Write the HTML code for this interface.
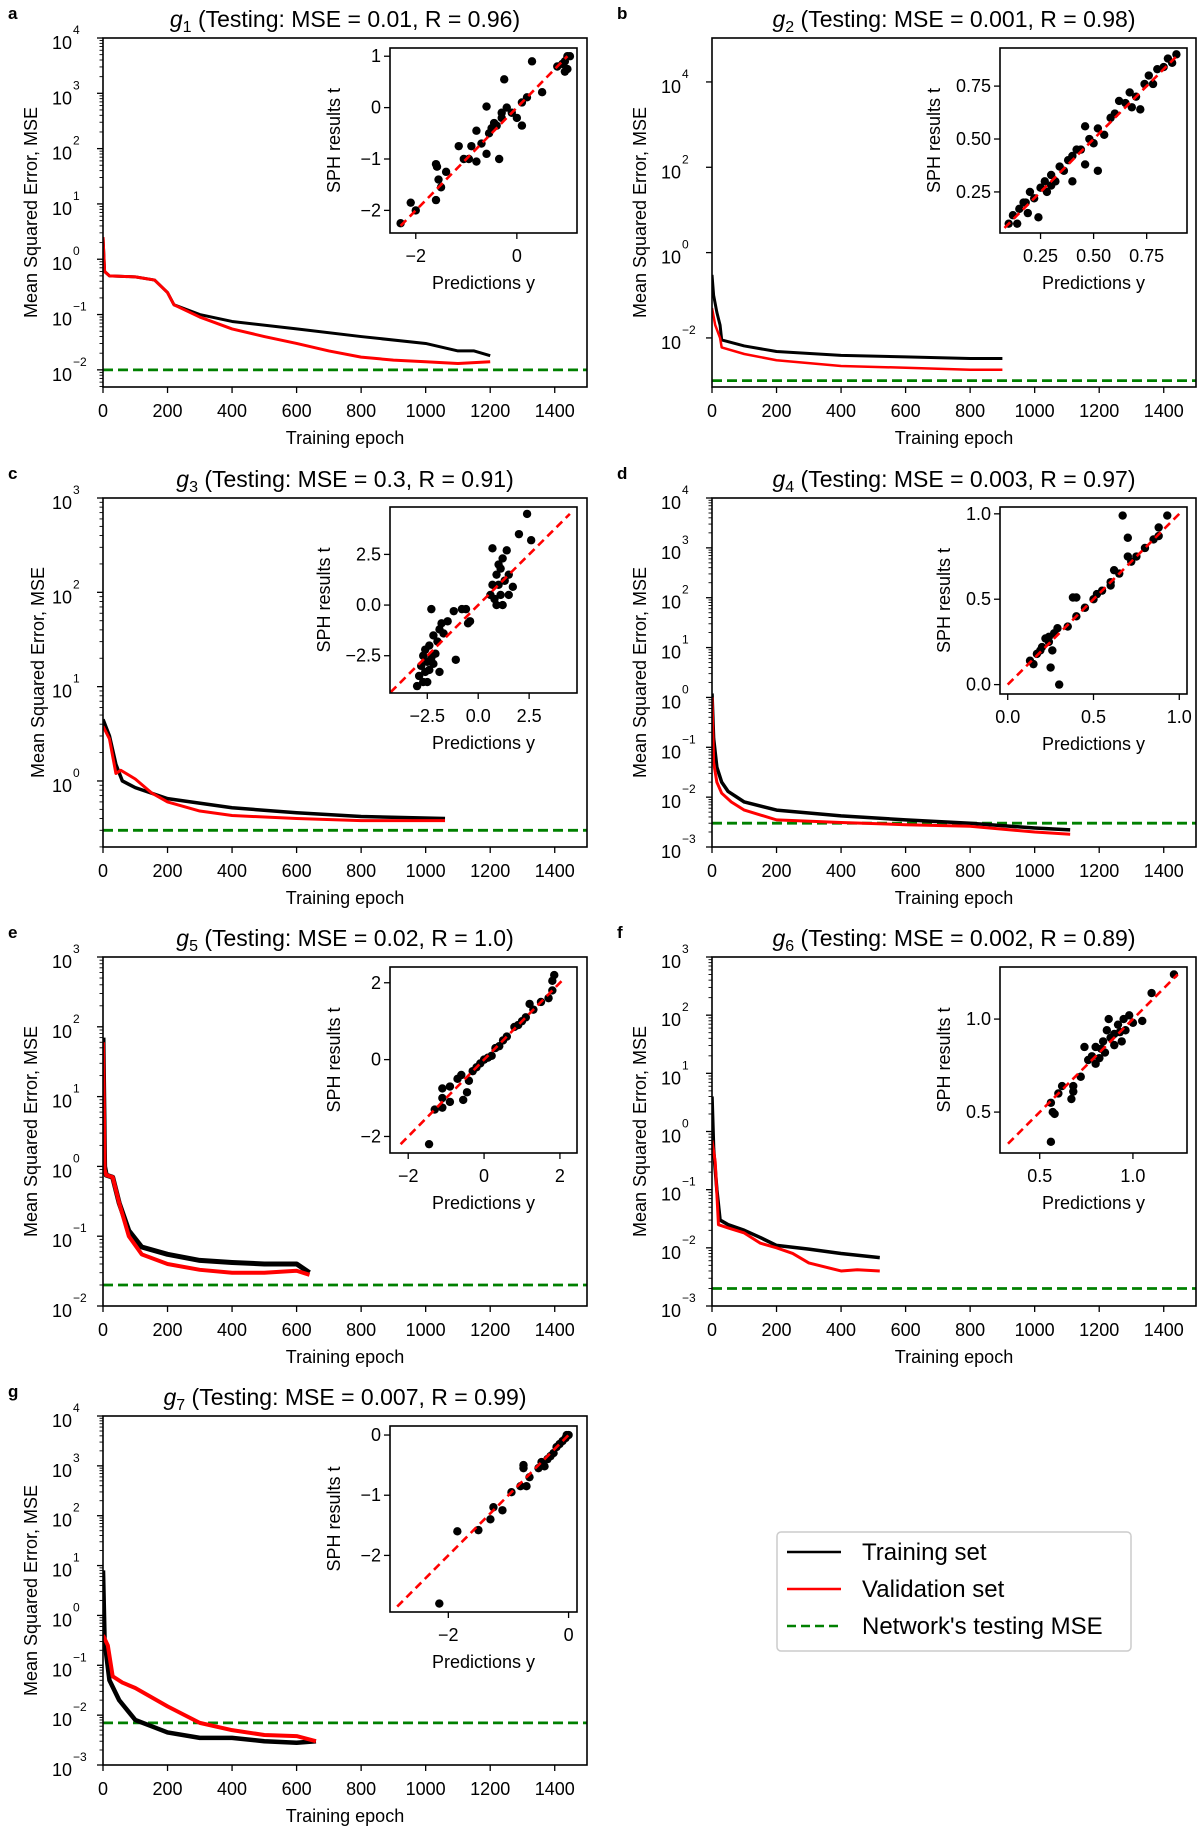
<!DOCTYPE html>
<html><head><meta charset="utf-8"><style>
html,body{margin:0;padding:0;background:#fff;}
svg{display:block;font-family:"Liberation Sans",Arial,sans-serif;}
</style></head><body>
<svg id="fig" width="1200" height="1831" viewBox="0 0 1200 1831" xmlns="http://www.w3.org/2000/svg">
<g id="legend">
<rect x="777" y="1532" width="354" height="119" rx="4" fill="#fff" stroke="#cccccc" stroke-width="1.5"/>
<line x1="787" y1="1552" x2="841" y2="1552" stroke="#000" stroke-width="2.5"/>
<text x="862" y="1560" font-size="24">Training set</text>
<line x1="787" y1="1589" x2="841" y2="1589" stroke="#ff0000" stroke-width="2.5"/>
<text x="862" y="1597" font-size="24">Validation set</text>
<line x1="787" y1="1626" x2="841" y2="1626" stroke="#008000" stroke-width="2.5" stroke-dasharray="9,5"/>
<text x="862" y="1634" font-size="24">Network's testing MSE</text>
</g>
</svg>
<script>
// ---- data ----
const g1Train=[[0,2.5],[5,0.6],[20,0.5],[100,0.48],[160,0.42],[200,0.25],[220,0.15],[300,0.1],[400,0.075],[600,0.055],[800,0.04],[1000,0.03],[1100,0.022],[1150,0.022],[1200,0.018]];
const g1Val=[[0,2.5],[5,0.6],[20,0.5],[100,0.48],[160,0.42],[200,0.25],[220,0.15],[300,0.09],[400,0.055],[500,0.04],[600,0.03],[700,0.022],[800,0.017],[900,0.015],[1000,0.014],[1100,0.013],[1200,0.014]];
const g2Train=[[0,0.3],[5,0.1],[15,0.04],[25,0.02],[30,0.009],[100,0.0065],[200,0.0048],[400,0.0039],[600,0.0036],[800,0.0033],[900,0.0033]];
const g2Val=[[0,0.05],[10,0.02],[25,0.01],[30,0.006],[100,0.0042],[200,0.003],[400,0.0022],[600,0.002],[800,0.0018],[900,0.0018]];
const g3Train=[[0,4.5],[20,3],[40,1.5],[60,1.0],[100,0.85],[200,0.65],[400,0.52],[600,0.46],[800,0.42],[1060,0.4]];
const g3Val=[[0,3.8],[20,2.8],[40,1.2],[55,1.3],[100,1.05],[150,0.75],[200,0.6],[300,0.48],[400,0.43],[600,0.4],[800,0.38],[1060,0.38]];
const g4Train=[[0,1.2],[5,0.15],[15,0.04],[30,0.02],[50,0.013],[100,0.008],[200,0.0055],[400,0.0042],[600,0.0035],[800,0.003],[1000,0.0024],[1110,0.0022]];
const g4Val=[[0,1],[5,0.05],[15,0.02],[30,0.012],[60,0.008],[100,0.0055],[200,0.0035],[400,0.0031],[600,0.0028],[800,0.0026],[1000,0.002],[1110,0.0018]];
const g5Train=[[0,70],[5,1.0],[10,0.75],[30,0.7],[50,0.3],[80,0.12],[120,0.07],[200,0.055],[300,0.045],[400,0.042],[500,0.04],[600,0.04],[640,0.03]];
const g5Val=[[0,60],[5,0.9],[10,0.75],[30,0.7],[50,0.3],[80,0.1],[120,0.055],[200,0.04],[300,0.033],[400,0.03],[500,0.03],[600,0.032],[640,0.028]];
const g6Train=[[0,4],[5,0.5],[15,0.1],[25,0.03],[50,0.025],[100,0.02],[150,0.015],[200,0.011],[300,0.0095],[400,0.008],[520,0.0068]];
const g6Val=[[0,0.7],[10,0.3],[20,0.025],[50,0.022],[100,0.018],[150,0.012],[200,0.01],[250,0.008],[300,0.0055],[400,0.004],[450,0.0042],[520,0.004]];
const g7Train=[[0,8],[5,0.3],[20,0.05],[50,0.02],[100,0.008],[150,0.006],[200,0.0045],[300,0.0035],[400,0.0035],[500,0.003],[600,0.0028],[660,0.003]];
const g7Val=[[0,0.4],[15,0.25],[30,0.06],[60,0.045],[100,0.035],[200,0.015],[300,0.007],[400,0.005],[500,0.004],[600,0.0038],[660,0.003]];
const testMSE=[0.01,0.001,0.3,0.003,0.02,0.002,0.007];
const testR=["0.96","0.98","0.91","0.97","1.0","0.89","0.99"];
const testMSELabel=["0.01","0.001","0.3","0.003","0.02","0.002","0.007"];
const xTicks=[0,200,400,600,800,1000,1200,1400];

const g1Pts=[[-2.3,-2.25],[-2.1,-1.85],[-2.0,-2.0],[-1.6,-1.8],[-1.55,-1.4],[-1.6,-1.1],[-1.58,-1.15],[-1.5,-1.55],[-1.4,-1.25],[-1.15,-0.75],[-1.05,-1.0],[-0.9,-0.75],[-0.95,-1.0],[-0.8,-1.05],[-0.8,-0.45],[-0.7,-0.7],[-0.6,-0.9],[-0.6,0.02],[-0.5,-0.4],[-0.45,-0.3],[-0.35,-1.0],[-0.3,-0.2],[-0.2,0],[-0.1,-0.1],[0,-0.2],[0.1,-0.35],[0.1,0.1],[-0.25,0.55],[0.3,0.9],[0.2,0.2],[0.5,0.3],[0.8,0.8],[0.9,0.85],[0.95,0.9],[1.0,1.0],[1.05,1.0],[0.95,0.7],[1.0,0.75],[-0.4,-0.35],[-0.55,-0.5],[-0.3,-0.1]];
const g2Pts=[[0.1,0.1],[0.12,0.14],[0.14,0.1],[0.15,0.17],[0.17,0.2],[0.19,0.15],[0.2,0.25],[0.22,0.22],[0.24,0.13],[0.25,0.27],[0.27,0.3],[0.28,0.25],[0.3,0.33],[0.32,0.3],[0.34,0.37],[0.36,0.35],[0.38,0.4],[0.4,0.3],[0.4,0.42],[0.42,0.45],[0.44,0.45],[0.46,0.56],[0.46,0.38],[0.48,0.5],[0.5,0.48],[0.52,0.35],[0.52,0.55],[0.55,0.52],[0.58,0.6],[0.6,0.62],[0.62,0.68],[0.65,0.67],[0.67,0.72],[0.68,0.65],[0.7,0.7],[0.72,0.64],[0.74,0.76],[0.76,0.8],[0.78,0.76],[0.8,0.83],[0.83,0.84],[0.85,0.88],[0.87,0.86],[0.89,0.9],[0.18,0.2],[0.3,0.28]];
const g3Pts=[[-3,-4],[-2.9,-3.5],[-2.8,-3],[-2.7,-2.5],[-2.6,-3.3],[-2.6,-2.2],[-2.5,-3.8],[-2.5,-2.8],[-2.4,-2.0],[-2.4,-3.2],[-2.3,-2.6],[-2.3,-0.2],[-2.2,-1.5],[-2.1,-2.4],[-2.0,-1.8],[-1.9,-3.3],[-1.9,-1.2],[-1.8,-0.9],[-1.7,-1.4],[-1.5,-0.8],[-1.2,-0.3],[-1.1,-2.7],[-0.8,-0.2],[-0.6,-0.2],[-0.5,-0.9],[-0.4,-0.8],[0.6,0.5],[0.7,1.0],[0.7,2.8],[0.8,0.3],[0.9,1.5],[0.9,0.0],[1.0,2.0],[1.0,1.0],[1.1,0.5],[1.1,1.8],[1.2,0.0],[1.3,1.2],[1.4,2.7],[1.5,1.5],[1.5,0.5],[1.7,0.9],[2.0,3.5],[2.4,4.5],[2.6,3.2],[-2.7,-3.8],[-2.2,-2.9],[1.2,2.3]];
const g4Pts=[[0.13,0.14],[0.15,0.12],[0.17,0.18],[0.19,0.2],[0.2,0.22],[0.22,0.27],[0.24,0.25],[0.25,0.1],[0.26,0.2],[0.27,0.3],[0.29,0.33],[0.3,0.0],[0.35,0.34],[0.38,0.51],[0.4,0.51],[0.4,0.4],[0.45,0.45],[0.5,0.5],[0.52,0.53],[0.55,0.55],[0.6,0.6],[0.62,0.67],[0.65,0.65],[0.67,0.99],[0.7,0.86],[0.7,0.75],[0.72,0.72],[0.75,0.75],[0.8,0.8],[0.85,0.85],[0.88,0.92],[0.88,0.87],[0.93,0.99],[0.6,0.58],[0.24,0.28]];
const g5Pts=[[-1.45,-2.2],[-1.3,-1.3],[-1.1,-0.75],[-1.1,-1.0],[-1.1,-1.25],[-0.9,-1.1],[-0.9,-0.7],[-0.7,-0.5],[-0.6,-0.4],[-0.55,-1.05],[-0.45,-0.85],[-0.4,-0.55],[-0.3,-0.3],[-0.2,-0.2],[0,0],[0.2,0.1],[0.4,0.35],[0.6,0.6],[0.8,0.85],[1.0,1.0],[1.2,1.45],[1.3,1.3],[1.5,1.5],[1.7,1.6],[1.8,1.8],[1.85,2.2],[1.8,2.05],[0.1,0.05],[0.3,0.3],[0.5,0.5],[0.9,0.9],[1.1,1.1],[-0.1,-0.1]];
const g6Pts=[[0.56,0.34],[0.56,0.55],[0.57,0.5],[0.58,0.49],[0.6,0.6],[0.62,0.64],[0.67,0.57],[0.68,0.61],[0.68,0.64],[0.72,0.69],[0.74,0.85],[0.76,0.78],[0.78,0.8],[0.8,0.76],[0.8,0.85],[0.82,0.79],[0.84,0.88],[0.85,0.82],[0.86,0.94],[0.87,1.0],[0.88,0.9],[0.9,0.92],[0.9,0.86],[0.92,0.97],[0.94,0.88],[0.95,1.0],[0.96,0.94],[0.98,1.02],[1.0,0.98],[1.05,0.99],[1.1,1.14],[1.22,1.24],[0.93,0.93],[0.83,0.84]];
const g7Pts=[[-2.15,-2.8],[-1.85,-1.6],[-1.5,-1.58],[-1.3,-1.4],[-1.25,-1.2],[-1.1,-1.25],[-0.95,-0.95],[-0.8,-0.85],[-0.75,-0.5],[-0.75,-0.55],[-0.7,-0.85],[-0.65,-0.7],[-0.5,-0.55],[-0.45,-0.45],[-0.4,-0.52],[-0.3,-0.35],[-0.25,-0.3],[-0.2,-0.2],[-0.15,-0.15],[-0.1,-0.1],[-0.05,-0.05],[0,0],[-0.35,-0.4],[-0.03,0]];
const diagRanges=[[-2.3,1],[0.08,0.9],[-4.3,4.5],[0,1],[-2.2,2.1],[0.33,1.24],[-2.85,0]];
const insetXTicks=[[-2,0],[0.25,0.5,0.75],[-2.5,0,2.5],[0,0.5,1],[-2,0,2],[0.5,1.0],[-2,0]];
const insetYTicks=[[1,0,-1,-2],[0.25,0.5,0.75],[2.5,0,-2.5],[0,0.5,1],[2,0,-2],[0.5,1.0],[0,-1,-2]];
const insetDecimals=[0,2,1,1,0,1,0];

// ---- layout (not data) ----
const NS="http://www.w3.org/2000/svg";
const svg=document.getElementById('fig');
const panels=[
 {L:'a',x:103,y:38,ymin:-2.31,ymax:4,maj:[-2,-1,0,1,2,3,4],minor:true,yl:31,tr:g1Train,va:g1Val,pts:g1Pts,bw:[3,3],
  ins:{l:390,t:48,r:577,b:233,x0:-2.51,x1:1.19,y0:-2.44,y1:1.16}},
 {L:'b',x:712,y:38,ymin:-3.15,ymax:5.03,maj:[-2,0,2,4],minor:false,yl:640,tr:g2Train,va:g2Val,pts:g2Pts,bw:[3,2.5],
  ins:{l:1000,t:48,r:1187,b:233,x0:0.059,x1:0.94,y0:0.056,y1:0.93}},
 {L:'c',x:103,y:498,ymin:-0.70,ymax:3,maj:[0,1,2,3],minor:true,yl:38,tr:g3Train,va:g3Val,pts:g3Pts,bw:[3.5,3],
  ins:{l:390,t:507,r:577,b:693,x0:-4.33,x1:4.85,y0:-4.34,y1:4.84}},
 {L:'d',x:712,y:498,ymin:-3,ymax:4,maj:[-3,-2,-1,0,1,2,3,4],minor:true,yl:640,tr:g4Train,va:g4Val,pts:g4Pts,bw:[3.5,3],
  ins:{l:1000,t:507,r:1187,b:694,x0:-0.045,x1:1.045,y0:-0.055,y1:1.04}},
 {L:'e',x:103,y:957,ymin:-2,ymax:3,maj:[-2,-1,0,1,2,3],minor:true,yl:31,tr:g5Train,va:g5Val,pts:g5Pts,bw:[5,4],
  ins:{l:390,t:967,r:577,b:1153,x0:-2.48,x1:2.45,y0:-2.43,y1:2.41}},
 {L:'f',x:712,y:957,ymin:-3,ymax:3,maj:[-3,-2,-1,0,1,2,3],minor:true,yl:640,tr:g6Train,va:g6Val,pts:g6Pts,bw:[3.5,3],
  ins:{l:1000,t:967,r:1187,b:1153,x0:0.287,x1:1.29,y0:0.28,y1:1.28}},
 {L:'g',x:103,y:1416,ymin:-3,ymax:4,maj:[-3,-2,-1,0,1,2,3,4],minor:true,yl:31,tr:g7Train,va:g7Val,pts:g7Pts,bw:[4.5,4],
  ins:{l:390,t:1426,r:577,b:1612,x0:-2.97,x1:0.14,y0:-2.94,y1:0.15}}
];
const W=484,H=349,XMAX=1500;

function mk(tag,attrs,parent){const e=document.createElementNS(NS,tag);for(const k in attrs)e.setAttribute(k,attrs[k]);(parent||svg).appendChild(e);return e;}
function txt(x,y,s,size,anchor,parent){const t=mk('text',{x:x,y:y,'font-size':size,'text-anchor':anchor||'start'},parent);t.textContent=s;return t;}
function fmt(v,d){return (v<0?'\u2212':'')+Math.abs(v).toFixed(d);}

panels.forEach((p,i)=>{
  const g=mk('g',{});
  
  
  const X=e=>p.x+e/XMAX*W;
  const Y=v=>p.y+H-(Math.log10(v)-p.ymin)/(p.ymax-p.ymin)*H;
  const YL=l=>p.y+H-(l-p.ymin)/(p.ymax-p.ymin)*H;
  // letter + title
  const lt=txt(p.x-95+(p.x>600?-0:0),p.y-19,p.L,17,'start',g);
  lt.setAttribute('x',p.x<600?8:617);
  lt.setAttribute('font-weight','bold');
  
  
  const tt=mk('text',{x:p.x+W/2,y:p.y-11,'font-size':23,'text-anchor':'middle'},g);
  
  
  const s1=mk('tspan',{'font-style':'italic'},tt);s1.textContent='g';
  const s2=mk('tspan',{'font-size':16,dy:5},tt);s2.textContent=String(i+1);
  const s3=mk('tspan',{dy:-5},tt);s3.textContent=' (Testing: MSE = '+testMSELabel[i]+', R = '+testR[i]+')';
  // clip
  const cp=mk('clipPath',{id:'clip'+i},g);mk('rect',{x:p.x,y:p.y,width:W,height:H},cp);
  // test line
  const tl=mk('line',{x1:p.x,x2:p.x+W,y1:Y(testMSE[i]),y2:Y(testMSE[i]),stroke:'#008000','stroke-width':2.8,'stroke-dasharray':'10,5','clip-path':'url(#clip'+i+')'},g);
  
  
  // curves
  const tr=mk('polyline',{points:p.tr.map(d=>X(d[0])+','+Y(d[1])).join(' '),fill:'none',stroke:'#000','stroke-width':p.bw[0],'stroke-linejoin':'round','clip-path':'url(#clip'+i+')'},g);
  
  
  const va=mk('polyline',{points:p.va.map(d=>X(d[0])+','+Y(d[1])).join(' '),fill:'none',stroke:'#ff0000','stroke-width':p.bw[1],'stroke-linejoin':'round','clip-path':'url(#clip'+i+')'},g);
  
  
  // frame
  const fr=mk('rect',{x:p.x,y:p.y,width:W,height:H,fill:'none',stroke:'#000','stroke-width':1.6},g);
  
  
  // x ticks
  xTicks.forEach(t=>{
    mk('line',{x1:X(t),x2:X(t),y1:p.y+H,y2:p.y+H+6,stroke:'#000','stroke-width':1.3},g);
    const tx=txt(X(t),p.y+H+30,String(t),18,'middle',g);
    
    
  });
  const xl=txt(p.x+W/2,p.y+H+57,'Training epoch',18,'middle',g);
  
  
  // y ticks
  for(let k=Math.floor(p.ymin);k<=Math.ceil(p.ymax);k++){
    if(p.minor){for(let m=2;m<10;m++){const l=k+Math.log10(m);if(l>=p.ymin&&l<=p.ymax)mk('line',{x1:p.x-3.5,x2:p.x,y1:YL(l),y2:YL(l),stroke:'#000','stroke-width':0.9},g);}}
  }
  p.maj.forEach(k=>{
    const y=YL(k);
    mk('line',{x1:p.x-6,x2:p.x,y1:y,y2:y,stroke:'#000','stroke-width':1.3},g);
    const t=txt(p.x-31,y+11,'10',18,'end',g);
    
    
    const e=txt(p.x-30,y-4,(k<0?'\u2212':'')+Math.abs(k),12,'start',g);
    
    
  });
  const yl=txt(0,0,'Mean Squared Error, MSE',18,'middle',g);
  yl.setAttribute('transform','translate('+(p.yl+6)+','+(p.y+H/2)+') rotate(-90)');
  
  
  // inset
  const n=p.ins;
  const ig=mk('g',{},g);
  
  
  mk('rect',{x:n.l,y:n.t,width:n.r-n.l,height:n.b-n.t,fill:'#fff',stroke:'none'},ig);
  const IX=v=>n.l+(v-n.x0)/(n.x1-n.x0)*(n.r-n.l);
  const IY=v=>n.b-(v-n.y0)/(n.y1-n.y0)*(n.b-n.t);
  p.pts.forEach(d=>{
    const c=mk('circle',{cx:IX(d[0]),cy:IY(d[1]),r:4.2,fill:'#000'},ig);
    
    
  });
  const dr=diagRanges[i];
  const dl=mk('line',{x1:IX(dr[0]),y1:IY(dr[0]),x2:IX(dr[1]),y2:IY(dr[1]),stroke:'#ff0000','stroke-width':2.6,'stroke-dasharray':'8,5'},ig);
  
  
  const ifr=mk('rect',{x:n.l,y:n.t,width:n.r-n.l,height:n.b-n.t,fill:'none',stroke:'#000','stroke-width':1.6},ig);
  
  
  insetXTicks[i].forEach(v=>{
    mk('line',{x1:IX(v),x2:IX(v),y1:n.b,y2:n.b+6,stroke:'#000','stroke-width':1.3},ig);
    const t=txt(IX(v),n.b+29,fmt(v,insetDecimals[i]),18,'middle',ig);
    
    
  });
  insetYTicks[i].forEach(v=>{
    mk('line',{x1:n.l-6,x2:n.l,y1:IY(v),y2:IY(v),stroke:'#000','stroke-width':1.3},ig);
    const t=txt(n.l-9,IY(v)+6,fmt(v,insetDecimals[i]),18,'end',ig);
    
    
  });
  const ixl=txt((n.l+n.r)/2,n.b+56,'Predictions y',18,'middle',ig);
  
  
  const yoff={0:56,1:66,2:66,3:56,4:56,5:56,6:56}[i];
  const iyl=txt(0,0,'SPH results t',18,'middle',ig);
  iyl.setAttribute('transform','translate('+(n.l-yoff+6)+','+((n.t+n.b)/2)+') rotate(-90)');
  
  
});
svg.appendChild(document.getElementById('legend'));
</script>
</body></html>
